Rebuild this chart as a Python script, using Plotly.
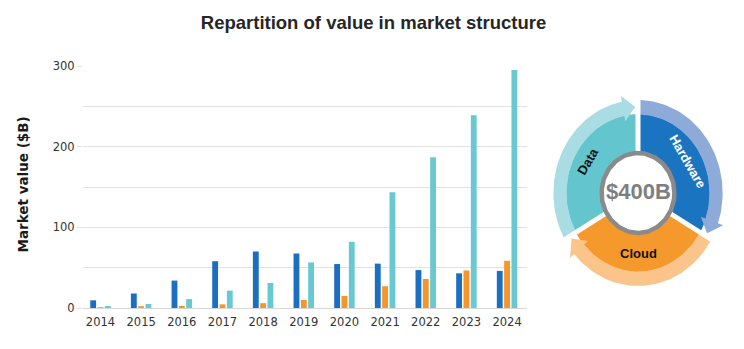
import numpy as np
import plotly.graph_objects as go

# ---------------- data ----------------
years = ["2014", "2015", "2016", "2017", "2018", "2019", "2020", "2021", "2022", "2023", "2024"]
hardware = [9.5, 18, 34, 58, 70, 67.5, 54.5, 55, 47, 43, 46]
cloud = [0.6, 1, 2.5, 4.5, 6, 10, 15, 27, 36, 46.5, 58.5]
data_vals = [2.5, 5, 11, 21.5, 31, 56.5, 82, 143.5, 187, 239, 295]
y_ticks = [0, 100, 200, 300]
y_minor = [50, 150, 250]

segments = ["Data", "Hardware", "Cloud"]
seg_center_deg = [150, 30, 270]
total_label = "$400B"

# ---------------- styles ----------------
W, H = 744, 349
c_blue, c_orange, c_cyan = "#1b6fc0", "#f7952a", "#69c9d2"
seg_colors = ["#63c6cf", "#1b74c0", "#f6992c"]
band_colors = ["#a9dde3", "#8eaad9", "#fbc48a"]
label_colors = ["#111111", "#ffffff", "#111111"]
grid = "#e2e2e2"


def px(x):
    return x / W


def py(y):
    return 1 - y / H


fig = go.Figure()
for name, vals, col in [("Hardware", hardware, c_blue), ("Cloud", cloud, c_orange), ("Data", data_vals, c_cyan)]:
    fig.add_trace(go.Bar(x=years, y=vals, name=name, marker=dict(color=col, line=dict(width=0)),
                         xaxis="x", yaxis="y"))

# ---------------- donut diagram (drawn on its own cartesian axes) ----------------
cx, cy, S, sx = 638, 193, 100, 0.91   # centre (px), half-range (units), horizontal squeeze
r_ring, r_in, r_seg, r_band = 40, 41, 79, 93
ax2 = dict(xaxis="x2", yaxis="y2", hoverinfo="skip", showlegend=False)


def arc(r, t0, t1, n=61):
    t = np.deg2rad(np.linspace(t0, t1, n))
    return r * np.cos(t), r * np.sin(t)


for c, col in zip(seg_center_deg, seg_colors):
    xo, yo = arc(r_seg, c - 60, c + 60)
    xi, yi = arc(r_in, c + 60, c - 60)
    fig.add_trace(go.Scatter(x=np.r_[xo, xi], y=np.r_[yo, yi], mode="lines", fill="toself",
                             fillcolor=col, line=dict(width=0, color=col), **ax2))
for c, col in zip(seg_center_deg, band_colors):
    xo, yo = arc(r_band, c - 49.5, c + 60)
    xi, yi = arc(r_seg - 0.5, c + 60, c - 49.5)
    fig.add_trace(go.Scatter(x=np.r_[xo, xi], y=np.r_[yo, yi], mode="lines", fill="toself",
                             fillcolor=col, line=dict(width=0, color=col), **ax2))
    tb, tt = np.deg2rad(c - 49), np.deg2rad(c - 58)
    hr = [73, 99, 86, 73]
    ht = [tb, tb, tt, tb]
    fig.add_trace(go.Scatter(x=[r * np.cos(t) for r, t in zip(hr, ht)],
                             y=[r * np.sin(t) for r, t in zip(hr, ht)],
                             mode="lines", fill="toself", fillcolor=col,
                             line=dict(width=0, color=col), **ax2))
for c in seg_center_deg:
    g = np.deg2rad(c + 60)
    fig.add_trace(go.Scatter(x=[0, 104 * np.cos(g)], y=[0, 104 * np.sin(g)], mode="lines",
                             line=dict(color="white", width=5), **ax2))
rx, ry = arc(r_ring, 0, 360, 181)
fig.add_trace(go.Scatter(x=rx, y=ry, mode="lines", fill="toself", fillcolor="white",
                         line=dict(color="#8a8a8a", width=4.5), **ax2))

annotations = []
label_r = [64, 63, 60]
label_angle = [-60, 60, 0]
for name, c, rr, ang, col in zip(segments, seg_center_deg, label_r, label_angle, label_colors):
    t = np.deg2rad(c)
    annotations.append(dict(x=rr * np.cos(t), y=rr * np.sin(t), xref="x2", yref="y2",
                            text="<b>%s</b>" % name, showarrow=False, textangle=ang,
                            font=dict(family="Liberation Sans, Arial", size=13, color=col),
                            xanchor="center", yanchor="middle"))
annotations.append(dict(x=0, y=2, xref="x2", yref="y2", text="<b>%s</b>" % total_label,
                        showarrow=False, font=dict(family="Liberation Sans, Arial", size=22, color="#7f7f7f"),
                        xanchor="center", yanchor="middle"))
annotations.append(dict(x=px(22.5), y=py(185), xref="paper", yref="paper", text="<b>Market value ($B)</b>",
                        showarrow=False, textangle=-90,
                        font=dict(family="DejaVu Sans", size=13.5, color="#1a1a1a"),
                        xanchor="center", yanchor="middle"))

fig.update_layout(
    width=W, height=H, autosize=False,
    margin=dict(l=0, r=0, t=0, b=0, autoexpand=False),
    paper_bgcolor="white", plot_bgcolor="white",
    showlegend=False,
    barmode="group", bargap=0.46, bargroupgap=0.2,
    title=dict(text="<b>Repartition of value in market structure</b>", x=px(373.5), xanchor="center",
               y=py(23), yanchor="middle", yref="container", automargin=False,
               font=dict(family="Liberation Sans, Arial, sans-serif", size=18.5, color="#262626")),
    xaxis=dict(domain=[px(83), px(527)], type="category", range=[-0.43, 10.49], automargin=False,
               showgrid=False, showline=True, linecolor="#d6d6d6", linewidth=1, ticks="",
               ticklabelstandoff=3,
               tickfont=dict(family="DejaVu Sans", size=11.5, color="#333333"), fixedrange=True),
    yaxis=dict(domain=[py(308), py(65.2)], range=[0, 301], tickvals=y_ticks, automargin=False,
               showgrid=True, gridcolor=grid, gridwidth=1, zeroline=False,
               ticks="outside", ticklen=5, tickcolor=grid,
               minor=dict(tickvals=y_minor, showgrid=True, gridcolor=grid, gridwidth=1, ticks=""),
               tickfont=dict(family="DejaVu Sans", size=11.5, color="#333333"), fixedrange=True),
    xaxis2=dict(domain=[px(cx - S * sx), px(cx + S * sx)], range=[-S, S], visible=False,
                fixedrange=True, automargin=False),
    yaxis2=dict(domain=[py(cy + S), py(cy - S)], range=[-S, S], visible=False,
                fixedrange=True, automargin=False),
    annotations=annotations,
)

fig.write_html("out.html")
